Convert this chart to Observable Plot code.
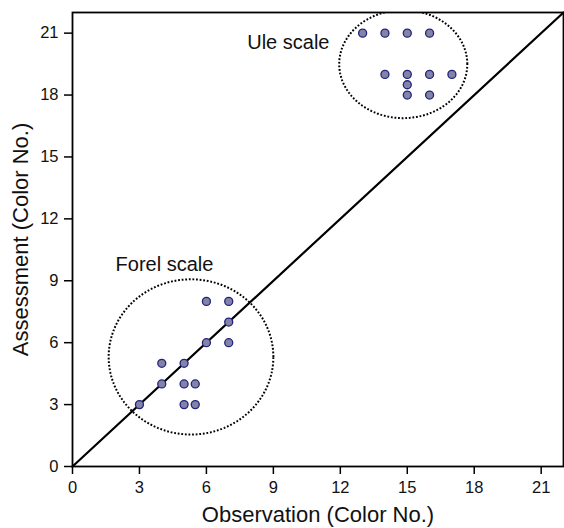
<!DOCTYPE html>
<html>
<head>
<meta charset="utf-8">
<script src="https://cdn.jsdelivr.net/npm/d3@7"></script>
<script src="https://cdn.jsdelivr.net/npm/@observablehq/plot@0.6"></script>
<style>
  html, body { margin: 0; padding: 0; background: #fff; }
  svg { font-family: "Liberation Sans", Arial, sans-serif; }
</style>
</head>
<body>
<div id="chart"></div>
<script>
// Observations (x) and assessments (y)
const uleObs    = [13, 14, 15, 16, 14, 15, 16, 17, 15, 15, 16];
const uleAssess = [21, 21, 21, 21, 19, 19, 19, 19, 18.5, 18, 18];
const forelObs    = [6, 7, 7, 6, 7, 4, 5, 4, 5, 5.5, 5, 5.5, 3];
const forelAssess = [8, 8, 7, 6, 6, 5, 5, 4, 4, 4, 3, 3, 3];

const ticks = [0, 3, 6, 9, 12, 15, 18, 21];
const axisDomain = [0, 22];
const diagonal = [0, 22];

// Annotation ellipses: name, center x, center y, radius x, radius y (data units)
const ellipseNames = ["Ule scale", "Forel scale"];
const ellipseCx = [14.82, 5.31];
const ellipseCy = [19.5, 5.31];
const ellipseRx = [2.87, 3.69];
const ellipseRy = [2.62, 3.76];
const labelX = [9.67, 4.12];
const labelY = [20.56, 9.8];

const points = [
  ...uleObs.map((x, i) => ({x, y: uleAssess[i]})),
  ...forelObs.map((x, i) => ({x, y: forelAssess[i]}))
];

const ellipsePts = [];
ellipseNames.forEach((name, k) => {
  d3.range(0, 361, 2).forEach(a => {
    const t = a * Math.PI / 180;
    ellipsePts.push({name, x: ellipseCx[k] + ellipseRx[k] * Math.cos(t), y: ellipseCy[k] + ellipseRy[k] * Math.sin(t)});
  });
});
const labels = ellipseNames.map((name, k) => ({name, x: labelX[k], y: labelY[k]}));

const chart = Plot.plot({
  width: 564,
  height: 528,
  marginLeft: 72,
  marginRight: 1,
  marginTop: 12,
  marginBottom: 62,
  style: {fontFamily: '"Liberation Sans", Arial, sans-serif', background: "#fff"},
  x: {domain: axisDomain},
  y: {domain: axisDomain},
  marks: [
    Plot.line(ellipsePts, {x: "x", y: "y", z: "name", stroke: "#000", strokeWidth: 2, strokeDasharray: "1.8,1.8", strokeLinecap: "butt", clip: true}),
    Plot.line(diagonal, {x: d => d, y: d => d, stroke: "#000", strokeWidth: 2.2}),
    Plot.dot(points, {x: "x", y: "y", r: 4, fill: "#8383a6", stroke: "#23237e", strokeWidth: 1.3}),
    Plot.text(labels, {x: "x", y: "y", text: "name", fontSize: 20, fill: "#111"}),
    Plot.axisX({ticks, tickSize: 8, tickPadding: 7, fontSize: 16.5, label: null, stroke: "#000", strokeWidth: 1.5, color: "#111"}),
    Plot.axisY({ticks, tickSize: 8, tickPadding: 6, fontSize: 16.5, label: null, stroke: "#000", strokeWidth: 1.5, color: "#111"}),
    Plot.text(["Observation (Color No.)"], {frameAnchor: "bottom", textAnchor: "middle", lineAnchor: "middle", dy: 48, fontSize: 22, fill: "#111"}),
    Plot.text(["Assessment (Color No.)"], {frameAnchor: "left", textAnchor: "middle", lineAnchor: "middle", dx: -52, rotate: -90, fontSize: 22, fill: "#111"}),
    Plot.frame({stroke: "#000", strokeWidth: 1.8})
  ]
});
document.getElementById("chart").appendChild(chart);
</script>
</body>
</html>
